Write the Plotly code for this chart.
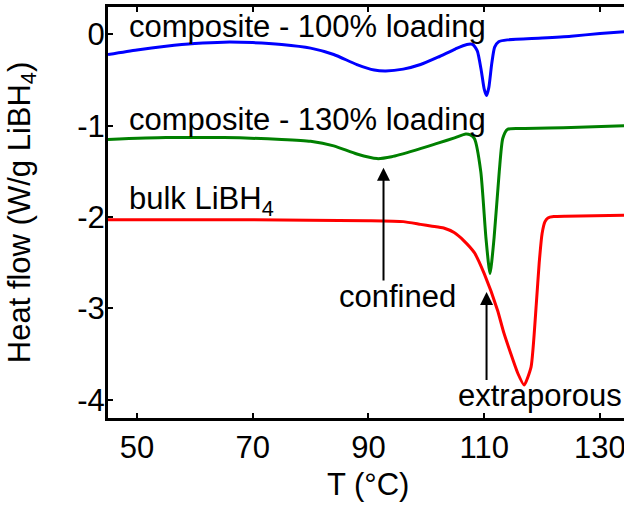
import plotly.graph_objects as go

# ---- data ----
t_blue = [45, 50, 55, 60, 65, 70, 75, 80, 84, 88, 91, 93, 96, 99, 102, 105, 107, 108,
          108.8, 109.5, 110.0, 110.4, 110.8, 111.3, 111.8, 112.5, 114, 120, 125, 130, 134.2]
hf_blue = [-0.22, -0.17, -0.13, -0.10, -0.085, -0.09, -0.11, -0.15, -0.22, -0.33, -0.39, -0.40,
           -0.38, -0.33, -0.25, -0.16, -0.11, -0.11,
           -0.18, -0.40, -0.60, -0.67, -0.58, -0.32, -0.14, -0.08, -0.06, -0.04, -0.02, 0.01, 0.03]

t_green = [45, 55, 65, 75, 80, 84, 88, 91.5, 94, 98, 102, 105, 106.8, 107.6, 108.3, 109.4,
           110.3, 111.0, 111.7, 112.6, 113.2, 114, 116, 125, 134.2]
hf_green = [-1.15, -1.13, -1.13, -1.15, -1.17, -1.22, -1.31, -1.36, -1.34, -1.27, -1.19, -1.13,
            -1.09, -1.10, -1.14, -1.50, -2.23, -2.62, -2.23, -1.50, -1.14, -1.04, -1.03, -1.02, -1.00]

t_red = [45, 70, 90, 96, 99, 101, 103, 104.8, 106.5, 108.3, 110, 112.3, 113.4, 115.8, 116.9,
         118.1, 119.0, 119.5, 120.0, 120.5, 121, 122, 124, 134.2]
hf_red = [-2.03, -2.03, -2.04, -2.05, -2.08, -2.10, -2.12, -2.17, -2.26, -2.39, -2.62, -3.02,
          -3.27, -3.71, -3.84, -3.64, -2.95, -2.50, -2.18, -2.05, -2.01, -1.995, -1.99, -1.98]

x_ticks = [50, 70, 90, 110, 130]
x_ticktext = ["50", "70", "90", "110", "130"]
y_ticks = [0, -1, -2, -3, -4]
y_ticktext = ["0", "-1", "-2", "-3", "-4"]

FONT = "Liberation Sans, Arial, Helvetica, sans-serif"
FS = 31

fig = go.Figure()
fig.add_trace(go.Scatter(x=t_blue, y=hf_blue, mode="lines", name="composite - 100% loading",
                         line=dict(color="#0000ff", width=3, shape="spline", smoothing=0.6)))
fig.add_trace(go.Scatter(x=t_green, y=hf_green, mode="lines", name="composite - 130% loading",
                         line=dict(color="#008000", width=3, shape="spline", smoothing=0.6)))
fig.add_trace(go.Scatter(x=t_red, y=hf_red, mode="lines", name="bulk LiBH4",
                         line=dict(color="#ff0000", width=3, shape="spline", smoothing=0.5)))

txt = dict(family=FONT, size=FS, color="black")
annotations = [
    dict(x=48.2, y=0.09, text="composite - 100% loading", xanchor="left", yanchor="middle"),
    dict(x=48.2, y=-0.934, text="composite - 130% loading", xanchor="left", yanchor="middle"),
    dict(x=48.2, y=-1.82, text="bulk LiBH<sub>4</sub>", xanchor="left", yanchor="middle"),
    dict(x=95.0, y=-2.865, text="confined", xanchor="center", yanchor="middle"),
    dict(x=105.1, y=-3.95, text="extraporous", xanchor="left", yanchor="middle"),
]
for a in annotations:
    fig.add_annotation(xref="x", yref="y", showarrow=False, font=txt, **a)

# x-axis title placed below the tick labels
fig.add_annotation(xref="paper", yref="paper", x=0.504, y=-0.163, text="T (°C)",
                   showarrow=False, xanchor="center", yanchor="middle", font=txt)

# arrows
for (xa, y0, y1) in [(92.6, -2.71, -1.46), (110.4, -3.80, -2.82)]:
    fig.add_annotation(xref="x", yref="y", axref="x", ayref="y", x=xa, y=y1, ax=xa, ay=y0,
                       text="", showarrow=True, arrowhead=2, arrowsize=1.3, arrowwidth=2,
                       arrowcolor="black", standoff=0)

fig.update_layout(
    width=624, height=505,
    margin=dict(l=108, r=0, t=7, b=87, autoexpand=False),
    paper_bgcolor="white", plot_bgcolor="white",
    showlegend=False,
    font=txt,
    xaxis=dict(range=[45, 134.15], tickvals=x_ticks, ticktext=x_ticktext,
               showline=True, linewidth=3, linecolor="black", mirror="ticks",
               ticks="inside", ticklen=5, tickwidth=2, tickcolor="black",
               showgrid=False, zeroline=False, tickfont=txt, automargin=False,
               ticklabeloverflow="allow"),
    yaxis=dict(range=[-4.2, 0.3], tickvals=y_ticks, ticktext=y_ticktext,
               showline=True, linewidth=3, linecolor="black", mirror=False,
               ticks="inside", ticklen=5, tickwidth=2, tickcolor="black",
               showgrid=False, zeroline=False, tickfont=txt, ticklabelstandoff=-6,
               automargin=False, ticklabeloverflow="allow",
               title=dict(text="Heat flow (W/g LiBH<sub>4</sub>)", font=txt, standoff=38)),
)

fig.write_html("out.html", config={"displayModeBar": False},
               post_script="document.body.style.margin='0';")
